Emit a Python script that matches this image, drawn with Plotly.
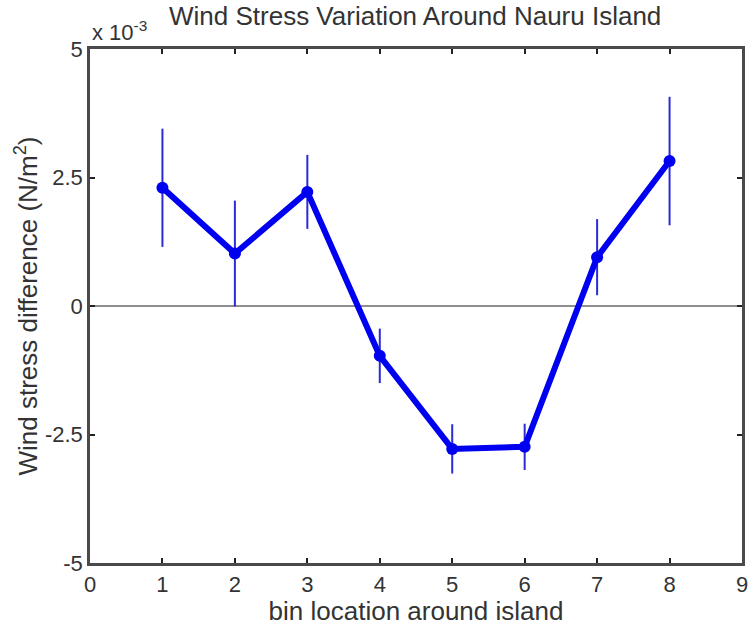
import plotly.graph_objects as go

# Bin locations around the island and wind stress difference (units of 1e-3 N/m^2)
bins = [1, 2, 3, 4, 5, 6, 7, 8]
stress_diff = [2.30, 1.02, 2.22, -0.97, -2.78, -2.74, 0.95, 2.82]
stress_err = [1.15, 1.03, 0.72, 0.53, 0.48, 0.45, 0.74, 1.25]

y_ticks = [-5, -2.5, 0, 2.5, 5]
y_tick_text = ["-5", "-2.5", "0", "2.5", "5"]
x_ticks = list(range(0, 10))

FONT = "Liberation Sans, Arial, sans-serif"
TXT = "#333333"

fig = go.Figure()

# zero reference line
fig.add_trace(go.Scatter(
    x=[0, 9], y=[0, 0], mode="lines",
    line=dict(color="#8f8f8f", width=2),
    hoverinfo="skip", showlegend=False,
))

fig.add_trace(go.Scatter(
    x=bins, y=stress_diff, mode="lines+markers",
    line=dict(color="#0000f0", width=6),
    marker=dict(color="#0000f0", size=12),
    error_y=dict(type="data", array=stress_err, visible=True,
                 color="#2a2ad8", thickness=2, width=0),
    showlegend=False,
))

axis_common = dict(
    showgrid=False, zeroline=False,
    showline=True, linecolor="#4a4a4a", linewidth=2.5, mirror="ticks",
    ticks="inside", ticklen=5, tickwidth=2, tickcolor="#222222",
    tickfont=dict(family=FONT, size=22, color=TXT),
)

fig.update_layout(
    width=756, height=626,
    margin=dict(l=90, r=8, t=49, b=63),
    paper_bgcolor="white", plot_bgcolor="white",
    font=dict(family=FONT, color=TXT),
    xaxis=dict(range=[0, 9], tickvals=x_ticks, ticklabelstandoff=0,
               title=dict(text="bin location around island",
                          font=dict(family=FONT, size=26, color=TXT), standoff=0),
               **axis_common),
    yaxis=dict(range=[-5, 5], tickvals=y_ticks, ticktext=y_tick_text,
               ticklabelstandoff=0,
               title=dict(text="Wind stress difference (N/m<sup>2</sup>)",
                          font=dict(family=FONT, size=26, color=TXT), standoff=0),
               **axis_common),
)

# title and exponent label
fig.add_annotation(text="Wind Stress Variation Around Nauru Island",
                   xref="paper", yref="paper", x=0.4985, y=1.0, yshift=16,
                   xanchor="center", yanchor="bottom", showarrow=False,
                   font=dict(family=FONT, size=26, color=TXT))
fig.add_annotation(text="x 10<sup>-3</sup>",
                   xref="paper", yref="paper", x=0.0, y=1.0, yshift=2,
                   xanchor="left", yanchor="bottom", showarrow=False,
                   font=dict(family=FONT, size=22, color=TXT))

fig.write_html("out.html")
